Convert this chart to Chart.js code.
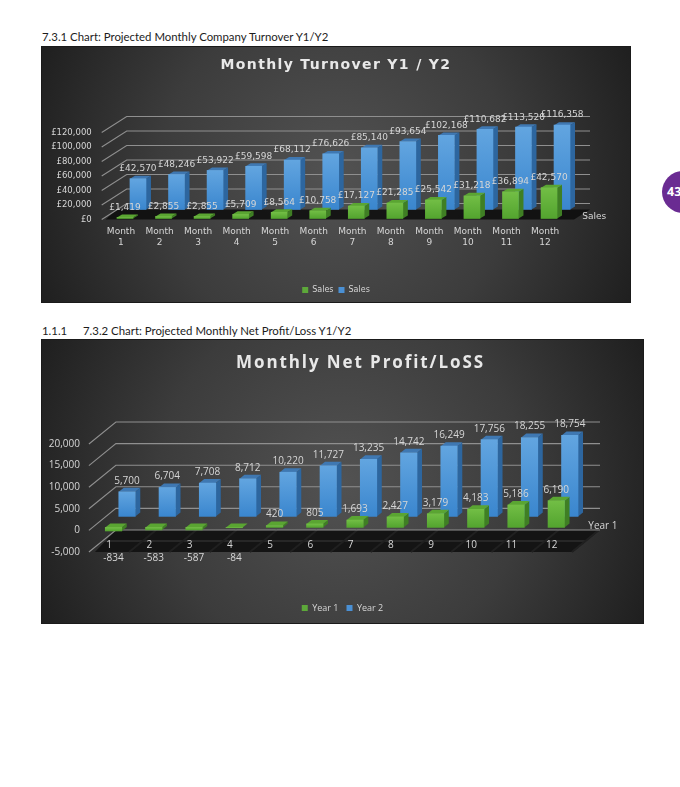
<!DOCTYPE html>
<html>
<head>
<meta charset="utf-8">
<title>Monthly Turnover and Net Profit/Loss</title>
<script src="https://cdn.jsdelivr.net/npm/chart.js@4/dist/chart.umd.min.js"></script>
<style>
  html, body { margin: 0; padding: 0; background: #fff; overflow: hidden; }
  body { position: relative; width: 680px; height: 787px; }
  .caption { position: absolute; font: 11.4px Lato, sans-serif; color: #1c1c1c; white-space: pre; }
  .panel { position: absolute; display: block; outline: 1px solid #1a1a1a; }
  #badge { position: absolute; left: 662px; top: 171px; width: 42px; height: 42px; border-radius: 50%;
           background: #6a2b92; color: #fff; font: bold 12.5px "Open Sans", sans-serif;
           line-height: 42px; text-indent: 5px; }
</style>
</head>
<body>
<div class="caption" style="left:42px;top:30px">7.3.1 Chart: Projected Monthly Company Turnover Y1/Y2</div>
<canvas id="turnover" class="panel" width="588" height="255" style="left:42px;top:47px"></canvas>
<div class="caption" style="left:42px;top:324px">1.1.1</div>
<div class="caption" style="left:83px;top:324px">7.3.2 Chart: Projected Monthly Net Profit/Loss Y1/Y2</div>
<canvas id="profit" class="panel" width="601" height="283" style="left:42px;top:340px"></canvas>
<div id="badge">43</div>

<script>
// Turnover chart data
const turnoverMonths = [['Month','1'],['Month','2'],['Month','3'],['Month','4'],['Month','5'],['Month','6'],
                        ['Month','7'],['Month','8'],['Month','9'],['Month','10'],['Month','11'],['Month','12']];
const salesYear1 = [1419, 2855, 2855, 5709, 8564, 10758, 17127, 21285, 25542, 31218, 36894, 42570];
const salesYear2 = [42570, 48246, 53922, 59598, 68112, 76626, 85140, 93654, 102168, 110682, 113520, 116358];
const turnoverTicks = [0, 20000, 40000, 60000, 80000, 100000, 120000];

// Net profit chart data
const profitMonths = ['1','2','3','4','5','6','7','8','9','10','11','12'];
const profitYear1 = [-834, -583, -587, -84, 420, 805, 1693, 2427, 3179, 4183, 5186, 6190];
const profitYear2 = [5700, 6704, 7708, 8712, 10220, 11727, 13235, 14742, 16249, 17756, 18255, 18754];
const profitTicks = [-5000, 0, 5000, 10000, 15000, 20000];

const GREEN = { light: '#72be45', dark: '#53a42f', side: '#3f7f24', top: '#5aa532', key: '#5da83a' };
const BLUE  = { light: '#62a5e0', dark: '#3a86ce', side: '#2d669f', top: '#3f78b2', key: '#4a90d4' };
const TEXT = '#d6d6d6';

const fmtPlain = v => Math.abs(v).toLocaleString('en-GB');
const fmtSigned = v => (v < 0 ? '-' : '') + fmtPlain(v);
const fmtPounds = v => '£' + fmtPlain(v);

// Vertical shading of a bar's front face, spanning that bar's own height
function faceShade(palette) {
  return ctx => {
    if (ctx.type !== 'data') return palette.key;
    const y = ctx.chart.scales.y;
    const a = y.getPixelForValue(ctx.parsed.y), b = y.getPixelForValue(0);
    if (a === b || !isFinite(a) || !isFinite(b)) return palette.key;
    const g = ctx.chart.ctx.createLinearGradient(0, Math.min(a, b), 0, Math.max(a, b));
    g.addColorStop(0, palette.light);
    g.addColorStop(1, palette.dark);
    return g;
  };
}

function poly(c, pts, fill) {
  c.beginPath();
  pts.forEach((p, i) => i ? c.lineTo(p[0], p[1]) : c.moveTo(p[0], p[1]));
  c.closePath();
  c.fillStyle = fill;
  c.fill();
}

// Wraps a layout box's draw so it is painted with a small offset and optional tracking
function nudgeBox(chart, box, dx, dy, tracking) {
  if (!box || box.nudged) return;
  const draw = box.draw;
  box.draw = function () {
    const c = chart.ctx;
    c.save();
    if (tracking) c.letterSpacing = tracking;
    c.translate(dx, dy);
    draw.call(box);
    c.restore();
  };
  box.nudged = true;
}

// Gives the flat bar chart its box-like look: shaded backdrop, receding wall and floor,
// depth offset per series, side and top faces on every bar, value labels.
const boxLook = {
  id: 'boxLook',
  afterLayout(chart, args, o) {
    nudgeBox(chart, chart.titleBlock, o.titleShift, 0, o.titleTracking);
    nudgeBox(chart, chart.legend, 0, o.legendShift);
  },
  beforeDraw(chart) {
    const c = chart.ctx, { width: w, height: h } = chart;
    const g = c.createRadialGradient(w / 2, h / 2, 0, w / 2, h / 2, Math.hypot(w, h) / 2);
    g.addColorStop(0, '#525252');
    g.addColorStop(0.55, '#3c3c3c');
    g.addColorStop(1, '#1f1f1f');
    c.fillStyle = g;
    c.fillRect(0, 0, w, h);
  },
  beforeDatasetsDraw(chart, args, o) {
    const c = chart.ctx, x = chart.scales.x, y = chart.scales.y;
    const floorY = y.getPixelForValue(y.min);
    c.save();
    if (o.stripedFloor) {
      const back = floorY + o.wallDy;
      poly(c, [[x.left + 6, floorY], [x.left + o.wallDx, back], [o.wallRight, back], [o.wallRight - o.wallDx, floorY]], '#141414');
      c.strokeStyle = '#3a3a3a';
      c.lineWidth = 1;
      c.beginPath();
      c.moveTo(x.left + 14, (floorY + back) / 2);
      c.lineTo(o.wallRight - 14, (floorY + back) / 2);
      c.stroke();
      c.strokeStyle = '#202020';
      c.lineWidth = 2;
      x.ticks.forEach((t, i) => {
        const px = x.getPixelForTick(i) + x.width / 24;
        c.beginPath();
        c.moveTo(px, floorY);
        c.lineTo(px + o.wallDx, back);
        c.stroke();
      });
    } else {
      poly(c, [[x.left + 4, floorY], [x.left + 15, floorY - o.floorDepth], [o.wallRight, floorY - o.floorDepth], [o.wallRight - 16, floorY]], 'rgba(12,12,12,0.85)');
    }
    c.strokeStyle = '#8f8f8f';
    c.lineWidth = 1.1;
    y.ticks.forEach(t => {
      const py = y.getPixelForValue(t.value);
      c.beginPath();
      c.moveTo(x.left, py);
      c.lineTo(x.left + o.wallDx, py + o.wallDy);
      c.lineTo(o.wallRight, py + o.wallDy);
      c.stroke();
    });
    c.restore();
  },
  beforeDatasetDraw(chart, args, o) {
    const c = chart.ctx, s = o.series[args.index];
    const meta = args.meta;
    c.save();
    c.translate(s.dx, s.dy);
    meta.data.forEach(bar => {
      const half = bar.width / 2, top = Math.min(bar.y, bar.base), low = Math.max(bar.y, bar.base);
      const l = bar.x - half, r = bar.x + half;
      poly(c, [[r, top], [r + o.sideW, top - o.sideH], [r + o.sideW, low - o.sideH], [r, low]], s.palette.side);
      poly(c, [[l, top], [l + o.sideW, top - o.sideH], [r + o.sideW, top - o.sideH], [r, top]], s.palette.top);
    });
  },
  afterDatasetDraw(chart) {
    chart.ctx.restore();
  },
  afterDatasetsDraw(chart, args, o) {
    const c = chart.ctx, x = chart.scales.x, y = chart.scales.y;
    c.save();
    c.font = o.labelFont;
    c.fillStyle = TEXT;
    c.textAlign = 'center';
    c.textBaseline = 'middle';
    chart.data.datasets.forEach((ds, di) => {
      const s = o.series[di], meta = chart.getDatasetMeta(di);
      ds.data.forEach((v, i) => {
        const bar = meta.data[i];
        const text = o.format(v);
        if (v < 0) {
          c.fillText(text, bar.x + s.dx, y.bottom + o.negativeGap);
        } else {
          c.fillText(text, bar.x + s.dx, bar.y + s.dy - o.labelGap);
        }
      });
    });
    c.fillText(o.depthLabel, x.right + o.depthX, y.getPixelForValue(0) + o.depthY);
    c.restore();
  }
};

function legendItems(colors) {
  return chart => chart.data.datasets.map((ds, i) => ({
    text: ds.label, fillStyle: colors[i], strokeStyle: colors[i], lineWidth: 0, datasetIndex: i, fontColor: TEXT
  }));
}

// Empty axis on the right that reserves room for the wall's depth
function depthAxis(width) {
  return {
    type: 'linear', position: 'right',
    grid: { display: false }, border: { display: false }, ticks: { display: false },
    afterFit: s => { s.width = width; }
  };
}

// Turnover panel
new Chart(document.getElementById('turnover'), {
  type: 'bar',
  plugins: [boxLook],
  data: {
    labels: turnoverMonths,
    datasets: [
      { label: 'Sales', data: salesYear1, backgroundColor: faceShade(GREEN), grouped: false, barThickness: 16, clip: false },
      { label: 'Sales', data: salesYear2, backgroundColor: faceShade(BLUE), grouped: false, barThickness: 16, clip: false }
    ]
  },
  options: {
    responsive: false, animation: false, events: [],
    scales: {
      x: {
        grid: { display: false, drawTicks: false }, border: { display: false },
        afterFit: s => { s.height = 59.5; },
        ticks: { color: TEXT, font: { family: 'DejaVu Sans', size: 9 }, padding: 7, autoSkip: false, maxRotation: 0 }
      },
      y: {
        min: 0, max: 120000,
        grid: { display: false, drawTicks: false }, border: { display: false },
        afterFit: s => { s.width = 59.7; },
        afterBuildTicks: s => { s.ticks = turnoverTicks.map(value => ({ value })); },
        ticks: { color: TEXT, font: { family: 'DejaVu Sans', size: 8.5 }, padding: 10, callback: fmtPounds }
      },
      depth: depthAxis(65.7)
    },
    plugins: {
      tooltip: { enabled: false },
      title: { display: true, text: 'Monthly Turnover Y1 / Y2', color: '#e8e8e8',
               font: { family: 'DejaVu Sans', size: 14, weight: 'bold' }, padding: { top: 10, bottom: 58.7 } },
      legend: { position: 'bottom',
                labels: { color: TEXT, font: { family: 'DejaVu Sans', size: 8 }, boxWidth: 6, boxHeight: 6, padding: 5,
                          generateLabels: legendItems([GREEN.key, BLUE.key]) } },
      boxLook: {
        titleTracking: '1.35px', titleShift: 0, legendShift: 2,
        wallDx: 25, wallDy: -16, wallRight: 548, floorDepth: 10, stripedFloor: false,
        sideW: 5, sideH: 3, labelGap: 10, negativeGap: 0,
        labelFont: '9px "DejaVu Sans"', format: fmtPounds,
        depthLabel: 'Sales', depthX: 30, depthY: -3,
        series: [ { dx: 4, dy: -1, palette: GREEN }, { dx: 17, dy: -10, palette: BLUE } ]
      }
    }
  }
});

// Net profit panel
new Chart(document.getElementById('profit'), {
  type: 'bar',
  plugins: [boxLook],
  data: {
    labels: profitMonths,
    datasets: [
      { label: 'Year 1', data: profitYear1, backgroundColor: faceShade(GREEN), grouped: false, barThickness: 16.5, clip: false },
      { label: 'Year 2', data: profitYear2, backgroundColor: faceShade(BLUE), grouped: false, barThickness: 16.5, clip: false }
    ]
  },
  options: {
    responsive: false, animation: false, events: [],
    layout: { padding: { bottom: 1.5 } },
    scales: {
      x: {
        grid: { display: false, drawTicks: false }, border: { display: false },
        afterFit: s => { s.height = 42.5; },
        ticks: { color: TEXT, font: { family: 'Open Sans', size: 10 }, mirror: true, padding: 1, autoSkip: false, maxRotation: 0, z: 1 }
      },
      y: {
        min: -5000, max: 20000,
        grid: { display: false, drawTicks: false }, border: { display: false },
        afterFit: s => { s.width = 46.9; },
        afterBuildTicks: s => { s.ticks = profitTicks.map(value => ({ value })); },
        ticks: { color: TEXT, font: { family: 'Open Sans', size: 10 }, padding: 9, callback: fmtSigned }
      },
      depth: depthAxis(71.1)
    },
    plugins: {
      tooltip: { enabled: false },
      title: { display: true, text: 'Monthly Net Profit/LoSS', color: '#e8e8e8',
               font: { family: 'Open Sans', size: 17, weight: 'bold' }, padding: { top: 13, bottom: 70.6 } },
      legend: { position: 'bottom',
                labels: { color: TEXT, font: { family: 'Open Sans', size: 9 }, boxWidth: 6, boxHeight: 6, padding: 8,
                          generateLabels: legendItems([GREEN.key, BLUE.key]) } },
      boxLook: {
        titleTracking: '1.9px', titleShift: 18, legendShift: 1,
        wallDx: 27, wallDy: -22, wallRight: 558, stripedFloor: true,
        sideW: 5, sideH: 4, labelGap: 11, negativeGap: 6,
        labelFont: '10px "Open Sans"', format: fmtSigned,
        depthLabel: 'Year 1', depthX: 31, depthY: -4,
        series: [ { dx: 4.5, dy: -3, palette: GREEN }, { dx: 18, dy: -14, palette: BLUE } ]
      }
    }
  }
});
</script>
</body>
</html>
